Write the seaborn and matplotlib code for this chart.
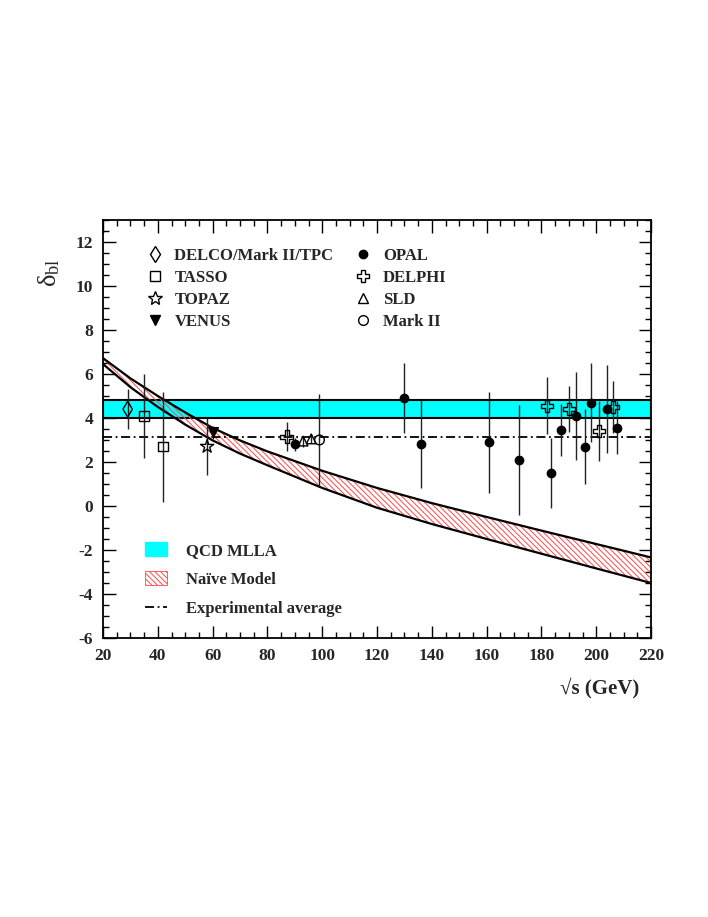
import matplotlib
matplotlib.use("Agg")
import matplotlib.pyplot as plt
import seaborn as sns
from matplotlib.lines import Line2D
from matplotlib.patches import Patch
from matplotlib.ticker import MultipleLocator

# dados
delco_x = [29]
delco_y = [4.4]
delco_err = [0.9]

tasso_x = [35, 42]
tasso_y = [4.1, 2.7]
tasso_err = [1.9, 2.5]

topaz_x = [58]
topaz_y = [2.7]
topaz_err = [1.3]

venus_x = [60]
venus_y = [3.35]
venus_err = [0.3]

opal_x = [90, 130, 136, 161, 172, 183.5, 187, 192.5, 196, 198, 204, 207.5]
opal_y = [2.8, 4.9, 2.8, 2.9, 2.1, 1.5, 3.45, 4.1, 2.7, 4.7, 4.4, 3.55]
opal_err = [0.3, 1.6, 2.0, 2.3, 2.5, 1.6, 1.2, 2.0, 1.7, 1.8, 2.0, 1.2]

delphi_x = [87, 182, 190, 201, 206]
delphi_y = [3.15, 4.55, 4.4, 3.4, 4.5]
delphi_err = [0.65, 1.3, 1.05, 1.35, 1.2]

sld_x = [93, 96]
sld_y = [2.95, 3.05]
sld_err = [0.25, 0.2]

mark2_x = [99]
mark2_y = [3.0]
mark2_err = [2.1]

# banda QCD MLLA e média experimental
mlla_low, mlla_high = 4.0, 4.8
exp_avg = 3.13

# modelo ingênuo (curvas superior e inferior)
naive_x = [20, 30, 40, 50, 60, 70, 80, 100, 120, 140, 160, 180, 200, 220]
naive_up = [6.72, 5.8, 5.0, 4.25, 3.55, 2.98, 2.48, 1.6, 0.82, 0.13, -0.5, -1.12, -1.73, -2.34]
naive_lo = [6.45, 5.4, 4.5, 3.7, 2.98, 2.38, 1.85, 0.82, -0.08, -0.82, -1.5, -2.17, -2.84, -3.5]

sns.set_theme(style="ticks")
plt.rcParams["font.family"] = ["Liberation Serif", "DejaVu Serif"]
plt.rcParams["font.weight"] = "bold"
plt.rcParams["mathtext.fontset"] = "stix"
plt.rcParams["axes.unicode_minus"] = False
plt.rcParams["hatch.linewidth"] = 0.7

HATCH_RED = "#ff4848"
DASHDOT = (0, (5, 2, 1, 2))

fig = plt.figure(figsize=(7.08, 9.17), dpi=100)
ax = fig.add_axes([0.1455, 0.3043, 0.774, 0.4558])

# banda QCD
ax.axhspan(mlla_low, mlla_high, facecolor="#00ffff", edgecolor="black", linewidth=1.5, zorder=1)

# modelo ingênuo
ax.fill_between(naive_x, naive_lo, naive_up, facecolor="none", edgecolor=HATCH_RED,
                hatch="\\" * 6, linewidth=0, zorder=2)
sns.lineplot(x=naive_x, y=naive_up, color="black", linewidth=1.6, ax=ax, zorder=3)
sns.lineplot(x=naive_x, y=naive_lo, color="black", linewidth=1.6, ax=ax, zorder=3)

# média experimental
ax.axhline(exp_avg, color="black", linestyle=DASHDOT, linewidth=1.3, zorder=3)

grupos = [
    (delco_x, delco_y, delco_err, "d", "none", 8),
    (tasso_x, tasso_y, tasso_err, "s", "none", 7),
    (topaz_x, topaz_y, topaz_err, "*", "none", 10),
    (venus_x, venus_y, venus_err, "v", "black", 7),
    (opal_x, opal_y, opal_err, "o", "black", 6),
    (delphi_x, delphi_y, delphi_err, "P", "none", 9),
    (sld_x, sld_y, sld_err, "^", "none", 7),
    (mark2_x, mark2_y, mark2_err, "o", "none", 7),
]

for gx, gy, gerr, m, fc, ms in grupos:
    ax.errorbar(gx, gy, yerr=gerr, fmt="none", ecolor="#222222", elinewidth=1.0, capsize=0, zorder=4)
    sns.scatterplot(x=gx, y=gy, marker=m, s=ms ** 2, facecolor=fc, edgecolor="black",
                    linewidth=1.0, ax=ax, zorder=5)

ax.set_xlim(20, 220)
ax.set_ylim(-6, 13)
ax.xaxis.set_major_locator(MultipleLocator(20))
ax.xaxis.set_minor_locator(MultipleLocator(5))
ax.yaxis.set_minor_locator(MultipleLocator(0.5))
ax.set_yticks([-6, -4, -2, 0, 2, 4, 6, 8, 10, 12])
ax.tick_params(which="both", direction="in", top=True, right=True, labelsize=12.5, width=1, color="black")
ax.tick_params(which="major", length=9, pad=7)
ax.tick_params(which="minor", length=4.5)
for s in ax.spines.values():
    s.set_linewidth(1.3)
    s.set_color("black")
for lab in ax.get_xticklabels() + ax.get_yticklabels():
    lab.set_fontweight("bold")

ax.set_xlabel("")
ax.set_ylabel("")
ax.text(0.978, -0.12, "√s (GeV)", transform=ax.transAxes, ha="right", va="center",
        fontsize=15, fontweight="bold")
ax.text(-0.098, 0.873, r"$\mathregular{δ_{bl}}$", transform=ax.transAxes, rotation=90,
        ha="center", va="center", fontsize=19, fontweight="normal")

# legendas
exp_handles = [
    Line2D([], [], marker="d", ls="none", mfc="none", mec="black", ms=8),
    Line2D([], [], marker="s", ls="none", mfc="none", mec="black", ms=7),
    Line2D([], [], marker="*", ls="none", mfc="none", mec="black", ms=10),
    Line2D([], [], marker="v", ls="none", mfc="black", mec="black", ms=7),
    Line2D([], [], marker="o", ls="none", mfc="black", mec="black", ms=6),
    Line2D([], [], marker="P", ls="none", mfc="none", mec="black", ms=9),
    Line2D([], [], marker="^", ls="none", mfc="none", mec="black", ms=7),
    Line2D([], [], marker="o", ls="none", mfc="none", mec="black", ms=7),
]
exp_labels = ["DELCO/Mark II/TPC", "TASSO", "TOPAZ", "VENUS", "OPAL", "DELPHI", "SLD", "Mark II"]
leg1 = ax.legend(exp_handles, exp_labels, ncol=2, frameon=False, loc="upper left",
                 bbox_to_anchor=(0.067, 0.9496), fontsize=12, handlelength=1.0,
                 handletextpad=0.68, labelspacing=0.37, columnspacing=1.3, borderaxespad=0)
ax.add_artist(leg1)

model_handles = [
    Patch(facecolor="#00ffff", edgecolor="#00ffff"),
    Patch(facecolor="white", edgecolor=HATCH_RED, hatch="\\" * 6, linewidth=0.6),
    Line2D([], [], color="black", linestyle=DASHDOT, linewidth=1.3),
]
model_labels = ["QCD MLLA", "Naïve Model", "Experimental average"]
ax.legend(model_handles, model_labels, frameon=False, loc="upper left",
          bbox_to_anchor=(0.0637, 0.245), fontsize=12, handlelength=1.32, handleheight=0.9,
          handletextpad=1.15, labelspacing=0.75, borderaxespad=0)

fig.savefig("out.png", dpi=100)
